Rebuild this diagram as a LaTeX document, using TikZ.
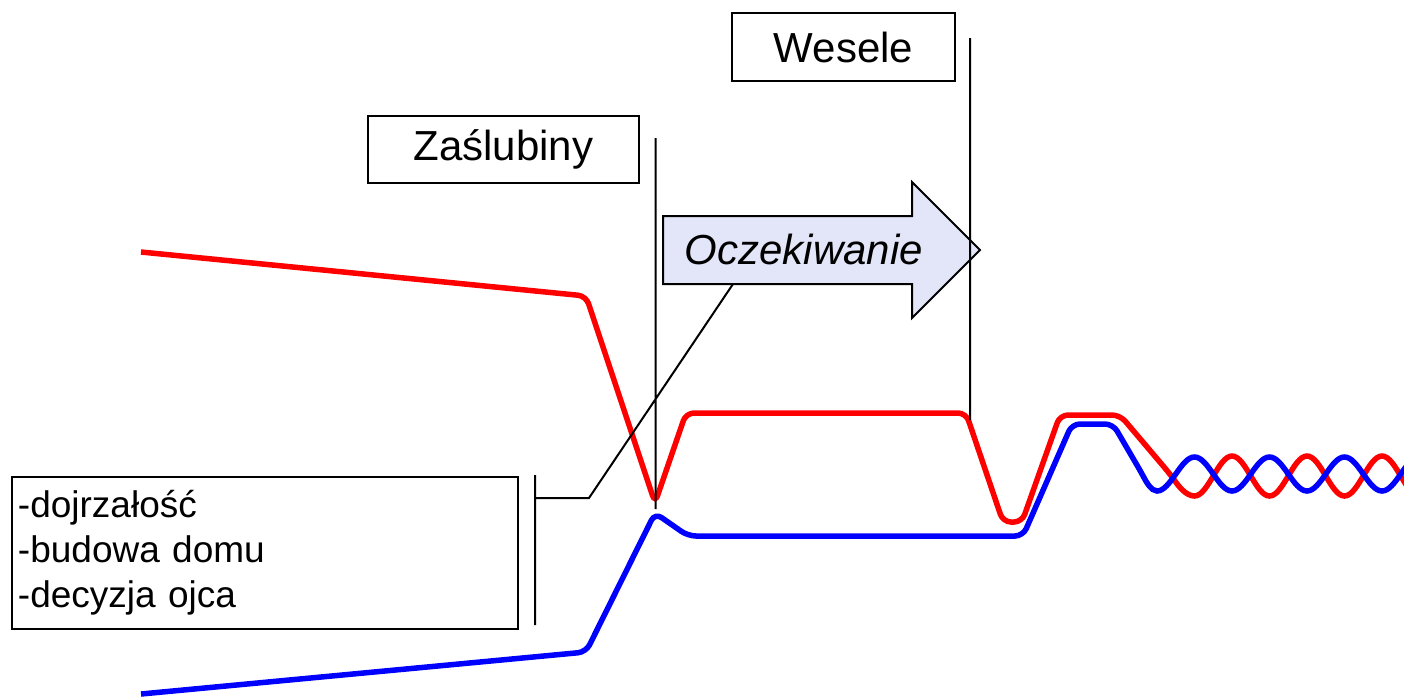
\documentclass[tikz,border=0pt]{standalone}
\usepackage{fontspec}
\setmainfont{Liberation Sans}
\definecolor{waitfill}{RGB}{227,230,248}
\tikzset{
  label box/.style={draw, line width=1pt, inner sep=0pt, font=\fontsize{21pt}{24pt}\selectfont},
  her/.style={red, line width=2.75pt, rounded corners=4pt},
  him/.style={blue, line width=2.75pt, rounded corners=4pt},
  marker/.style={line width=1pt}
}
\begin{document}
\begin{tikzpicture}[x=0.5pt, y=-0.5pt]
  \useasboundingbox (0,0) rectangle (1404,698);
  \clip (0,0) rectangle (1404,698);
  \node[label box, minimum width=111.5pt, minimum height=34pt] (W) at (843.5,47) {Wesele};
  \node[label box, minimum width=135.5pt, minimum height=33.5pt] (Z) at (503.5,149) {Zaślubiny};
  \node[label box, minimum height=76pt, text width=247pt, inner xsep=3pt, align=left,
    font=\fontsize{18.5pt}{22.5pt}\selectfont] (R) at (265,553) {-dojrzałość\\-budowa domu\\-decyzja ojca};
  \filldraw[fill=waitfill, line width=1pt]
  (663,216) -- (912,216) -- (912,182) -- (980,250) -- (912,318) -- (912,284) -- (663,284) -- cycle;
  \node[font=\itshape\fontsize{21pt}{24pt}\selectfont] (O) at (804,249) {Oczekiwanie};
  \draw[her] (141,252) -- (586,296) -- (655,503) -- (686,413) -- (966,413) -- (1003,522) -- (1022,522)
  -- (1060,415) -- (1120,415) -- (1170,474) [sharp corners] sin (1194.5,496)
  \foreach \k in {0,...,3} { cos ++(18.75,-20) sin ++(18.75,-20) cos ++(18.75,20) sin ++(18.75,20) };
  \draw[him] (141,694) -- (586,652) -- (655,513) -- (688,536) -- (1023,536) -- (1072,424) -- (1113,424)
  -- (1141,472) [sharp corners] sin (1157,491)
  \foreach \k in {0,...,4} { cos ++(18.75,-17) sin ++(18.75,-17) cos ++(18.75,17) sin ++(18.75,17) };
  \coordinate (zs) at (655.5,138);
  \coordinate (ze) at (655.5,509);
  \coordinate (ws) at (970,38);
  \coordinate (we) at (970,420);
  \coordinate (bt) at (535,475);
  \coordinate (bb) at (535,625);
  \coordinate (bm) at (535,498);
  \coordinate (kink) at (589,498);
  \coordinate (ap) at (733,284);
  \draw[marker]
  (zs) -- (ze)
  (ws) -- (we)
  (bt) -- (bb)
  (ap) -- (kink) -- (bm);
\end{tikzpicture}
\end{document}
